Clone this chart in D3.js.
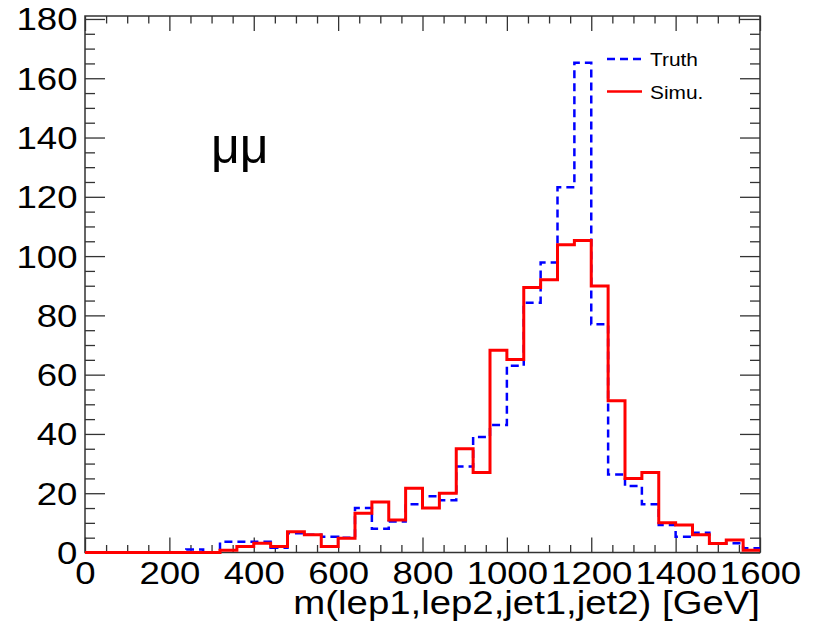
<!DOCTYPE html>
<html lang="en">
<head>
  <meta charset="UTF-8">
  <title></title>
  <style>
    html, body {
      margin: 0;
      overflow: hidden;
      width: 100%;
      height: 100%;
      background: #fff;
    }
    svg {
      position: absolute;
      top: 0;
      left: 0;
      background: #fff;
    }
    text {
      font-family: "Liberation Sans", Arial, sans-serif;
      fill: #000;
    }
  </style>
</head>
<body>
  <svg width="813" height="630"></svg>
</body>
<script src="https://d3js.org/d3.v7.min.js"></script>
<script type="text/javascript">
  // bin edges in GeV (40 GeV bins)
  const binEdges = [0, 40, 80, 120, 160, 200, 240, 280, 320, 360, 400, 440, 480, 520, 560, 600,
    640, 680, 720, 760, 800, 840, 880, 920, 960, 1000, 1040, 1080, 1120, 1160, 1200,
    1240, 1280, 1320, 1360, 1400, 1440, 1480, 1520, 1560, 1600]

  const truth = [0, 0, 0, 0, 0, 0, 1, 0, 3.6, 3.6, 3.6, 1.6, 6.5, 6, 5.3, 5,
    15, 8, 10.5, 16.3, 19, 17.6, 29, 39, 43, 63, 84.3, 97.8, 123.2, 165.2,
    77, 26.3, 22.4, 16.3, 9.3, 5.3, 6.7, 3, 3.1, 1.4]

  const simu = [0, 0, 0, 0, 0, 0, 0, 0, 0.8, 2, 3.1, 2, 7, 6, 2, 4.8,
    13.2, 17, 11, 21.7, 15, 20, 35, 27, 68.2, 65.1, 89.4, 92, 103.8, 105.3,
    89.9, 51.2, 25, 27, 10, 9.3, 6, 3, 4.2, 0.8]

  const xMajor = [0, 200, 400, 600, 800, 1000, 1200, 1400, 1600]
  const xMinor = d3.range(0, 1601, 50).filter(v => v % 200 !== 0)
  const yMajor = [0, 20, 40, 60, 80, 100, 120, 140, 160, 180]
  const yMinor = d3.range(0, 181, 5).filter(v => v % 20 !== 0)

  const legendItems = [
    { name: 'Truth', color: '#0000ff', dash: '8,5' },
    { name: 'Simu.', color: '#ff0000', dash: null }
  ]

  const svg = d3.select('svg')
  const stretch = 1.18

  const fLeft = 85, fRight = 760, fTop = 16, fBottom = 552.5

  const x = d3.scaleLinear().domain([0, 1600]).range([fLeft, fRight])
  const y = d3.scaleLinear().domain([0, 181]).range([fBottom, fTop])

  // step outline for a histogram
  function stepPath(values) {
    const p = d3.path()
    values.forEach((v, i) => {
      const x0 = x(binEdges[i]), x1 = x(binEdges[i + 1])
      if (i === 0) p.moveTo(x0, y(v))
      else p.lineTo(x0, y(v))
      p.lineTo(x1, y(v))
    })
    return p.toString()
  }

  // frame
  svg.append('rect')
    .attr('x', fLeft)
    .attr('y', fTop)
    .attr('width', fRight - fLeft)
    .attr('height', fBottom - fTop)
    .attr('fill', 'none')
    .attr('stroke', '#333')
    .attr('stroke-width', 1.5)

  function styleTicks(g) {
    g.select('.domain').remove()
    g.selectAll('line').attr('stroke', '#333').attr('stroke-width', 1.3)
  }

  // x axis, labels
  svg.append('g')
    .attr('transform', `translate(0,${fBottom})`)
    .call(d3.axisBottom(x).tickValues(xMajor).tickFormat(d3.format('d')).tickSize(-15).tickSizeOuter(0))
    .call(styleTicks)
    .call(g => g.selectAll('text')
      .attr('y', 31.5)
      .attr('dy', 0)
      .attr('font-size', 31)
      .attr('font-family', '"Liberation Sans", Arial, sans-serif')
      .attr('transform', `scale(${stretch},1)`))

  svg.append('g')
    .attr('transform', `translate(0,${fBottom})`)
    .call(d3.axisBottom(x).tickValues(xMinor).tickSize(-7.5).tickSizeOuter(0).tickFormat(''))
    .call(styleTicks)

  // top ticks
  svg.append('g')
    .attr('transform', `translate(0,${fTop})`)
    .call(d3.axisTop(x).tickValues(xMajor).tickSize(-15).tickSizeOuter(0).tickFormat(''))
    .call(styleTicks)
  svg.append('g')
    .attr('transform', `translate(0,${fTop})`)
    .call(d3.axisTop(x).tickValues(xMinor).tickSize(-7.5).tickSizeOuter(0).tickFormat(''))
    .call(styleTicks)

  // y axis, labels
  svg.append('g')
    .attr('transform', `translate(${fLeft},0)`)
    .call(d3.axisLeft(y).tickValues(yMajor).tickFormat(d3.format('d')).tickSize(-20).tickSizeOuter(0))
    .call(styleTicks)
    .call(g => g.selectAll('text')
      .attr('x', -6.4)
      .attr('y', 11)
      .attr('dy', 0)
      .attr('font-size', 31)
      .attr('font-family', '"Liberation Sans", Arial, sans-serif')
      .attr('transform', `scale(${stretch},1)`))

  svg.append('g')
    .attr('transform', `translate(${fLeft},0)`)
    .call(d3.axisLeft(y).tickValues(yMinor).tickSize(-10).tickSizeOuter(0).tickFormat(''))
    .call(styleTicks)

  // right ticks
  svg.append('g')
    .attr('transform', `translate(${fRight},0)`)
    .call(d3.axisRight(y).tickValues(yMajor).tickSize(-20).tickSizeOuter(0).tickFormat(''))
    .call(styleTicks)
  svg.append('g')
    .attr('transform', `translate(${fRight},0)`)
    .call(d3.axisRight(y).tickValues(yMinor).tickSize(-10).tickSizeOuter(0).tickFormat(''))
    .call(styleTicks)

  // histograms
  svg.append('path')
    .attr('d', stepPath(truth))
    .attr('fill', 'none')
    .attr('stroke', legendItems[0].color)
    .attr('stroke-width', 2.5)
    .attr('stroke-dasharray', legendItems[0].dash)

  svg.append('path')
    .attr('d', stepPath(simu))
    .attr('fill', 'none')
    .attr('stroke', legendItems[1].color)
    .attr('stroke-width', 3)

  // axis title
  svg.append('text')
    .attr('transform', `translate(${fRight},614) scale(${stretch},1)`)
    .attr('text-anchor', 'end')
    .attr('font-size', 32.5)
    .text('m(lep1,lep2,jet1,jet2) [GeV]')

  // channel label
  svg.append('text')
    .attr('x', 211)
    .attr('y', 163)
    .attr('font-size', 50)
    .text('μμ')

  // legend
  const leg = svg.append('g')
    .selectAll('g')
    .data(legendItems)
    .enter().append('g')
      .attr('transform', (d, i) => `translate(607,${59 + i * 32.5})`)

  leg.append('line')
    .attr('x1', 0)
    .attr('x2', 35)
    .attr('stroke', d => d.color)
    .attr('stroke-width', 2.5)
    .attr('stroke-dasharray', d => d.dash)

  leg.append('text')
    .attr('transform', `translate(43,7) scale(${stretch},1)`)
    .attr('font-size', 17.7)
    .text(d => d.name)
</script>
</html>
